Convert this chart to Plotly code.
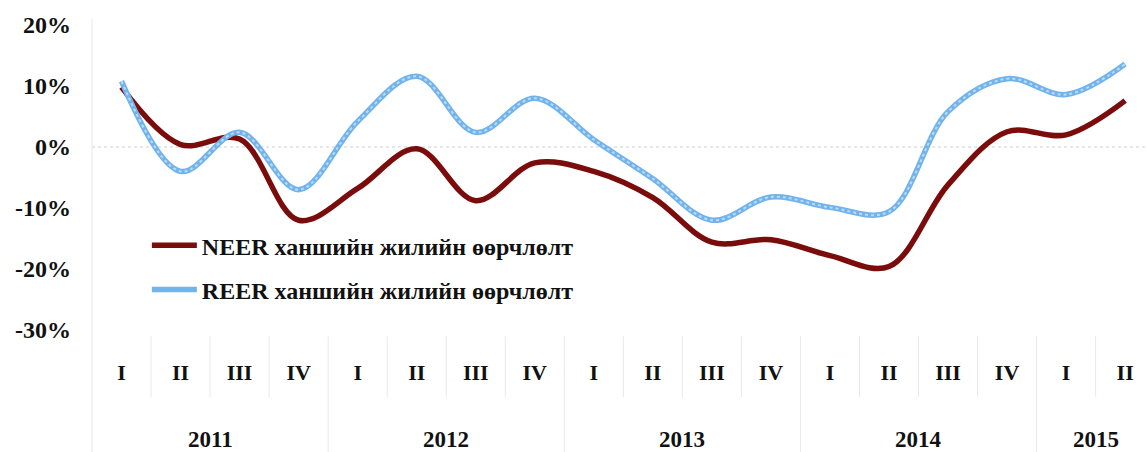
import plotly.graph_objects as go

quarters = ["I", "II", "III", "IV", "I", "II", "III", "IV", "I", "II", "III", "IV",
            "I", "II", "III", "IV", "I", "II"]
years = ["2011"] * 4 + ["2012"] * 4 + ["2013"] * 4 + ["2014"] * 4 + ["2015"] * 2
neer = [9.8, 0.4, 1.3, -12.0, -6.8, -0.3, -8.8, -2.6, -4.0, -8.3, -15.6, -15.2,
        -17.8, -19.6, -6.2, 2.5, 2.0, 7.6]
reer = [10.8, -4.0, 2.4, -7.0, 4.2, 11.6, 2.4, 8.0, 1.2, -5.2, -12.0, -8.2,
        -9.9, -10.6, 5.8, 11.2, 8.6, 13.6]
yticks = [20, 10, 0, -10, -20, -30]
series_names = ["NEER ханшийн жилийн өөрчлөлт", "REER ханшийн жилийн өөрчлөлт"]

FONT = "Liberation Serif"
TXT = "#111111"
idx = list(range(len(quarters)))

fig = go.Figure()
fig.add_trace(go.Scatter(x=idx, y=neer, mode="lines", name=series_names[0],
                         legendgroup="neer",
                         line=dict(color="#7b0c0c", width=5.5, shape="spline", smoothing=1.0)))
fig.add_trace(go.Scatter(x=idx, y=reer, mode="lines", name=series_names[1],
                         legendgroup="reer",
                         line=dict(color="#72b3ec", width=5.5, shape="spline", smoothing=1.0)))
# rope-like texture on the REER line
fig.add_trace(go.Scatter(x=idx, y=reer, mode="lines", showlegend=False, hoverinfo="skip",
                         legendgroup="reer",
                         line=dict(color="#b8dcf8", width=2, dash="dot", shape="spline",
                                   smoothing=1.0)))

# zero reference line (dotted)
fig.add_shape(type="line", xref="paper", yref="y", x0=0, x1=1, y0=0, y1=0,
              line=dict(color="#c9ced8", width=1, dash="dot"), layer="below")

# category separators
sep_color = "#e6e9ef"
for i in range(len(quarters) - 1):
    year_break = years[i] != years[i + 1]
    fig.add_shape(type="line", xref="x", yref="paper", x0=i + 0.5, x1=i + 0.5,
                  y0=-0.02, y1=-0.42 if year_break else -0.22,
                  line=dict(color=sep_color, width=1))
fig.add_shape(type="line", xref="paper", yref="paper", x0=0, x1=0, y0=1.02, y1=-0.42,
              line=dict(color=sep_color, width=1))

# year labels
seen = []
for y in years:
    if y not in seen:
        seen.append(y)
for y in seen:
    pos = [i for i, yy in enumerate(years) if yy == y]
    fig.add_annotation(x=sum(pos) / len(pos), y=-0.36, xref="x", yref="paper",
                       text=y, showarrow=False, yanchor="middle",
                       font=dict(family=FONT, size=23, color=TXT, weight="bold"))

fig.update_layout(
    width=1147, height=452,
    margin=dict(l=92, r=0, t=25, b=122),
    paper_bgcolor="white", plot_bgcolor="white",
    showlegend=True,
    legend=dict(x=0.052, y=0.35, xanchor="left", yanchor="top",
                bgcolor="rgba(0,0,0,0)", itemwidth=45, tracegroupgap=10,
                font=dict(family=FONT, size=24, color=TXT, weight="bold")),
    xaxis=dict(range=[-0.5, 17.37], tickmode="array", tickvals=idx, ticktext=quarters,
               showgrid=False, zeroline=False, showline=False, ticks="",
               automargin=False, ticklabelstandoff=27,
               tickfont=dict(family=FONT, size=22, color=TXT, weight="bold")),
    yaxis=dict(range=[-30, 20], tickmode="array", tickvals=yticks,
               ticktext=[f"{v}%" for v in yticks],
               showgrid=False, zeroline=False, showline=False, ticks="",
               automargin=False, ticklabelstandoff=20,
               tickfont=dict(family=FONT, size=24, color=TXT, weight="bold")),
)

fig.write_html("out.html", config={"displayModeBar": False},
               post_script="document.body.style.margin='0';document.body.style.overflow='hidden';")
